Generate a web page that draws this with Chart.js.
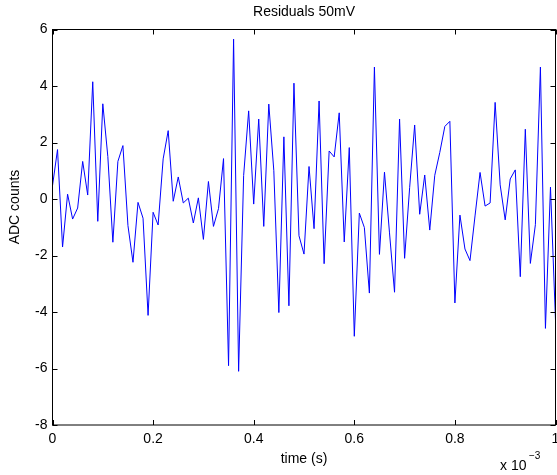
<!DOCTYPE html>
<html>
<head>
<meta charset="utf-8">
<script src="https://cdn.jsdelivr.net/npm/chart.js@4/dist/chart.umd.min.js"></script>
<style>
  html, body { margin: 0; padding: 0; background: #fff; }
  #wrap { width: 557px; height: 475px; }
</style>
</head>
<body>
<div id="wrap"><canvas id="resChart" width="557" height="475"></canvas></div>
<script>
// residuals, one sample every 1e-5 s
const residuals = [
  0.47, 1.75, -1.70, 0.17, -0.71, -0.32, 1.33, 0.14, 4.15, -0.79,
  3.37, 1.50, -1.53, 1.33, 1.89, -0.94, -2.24, -0.12, -0.68, -4.12,
  -0.47, -0.92, 1.42, 2.42, -0.08, 0.78, -0.14, 0.03, -0.85, 0.04,
  -1.43, 0.62, -0.97, -0.34, 1.43, -5.90, 5.66, -6.10, 0.83, 3.12,
  -0.18, 2.83, -0.97, 3.36, 1.00, -4.02, 2.20, -3.78, 4.10, -1.30,
  -1.95, 1.15, -1.05, 3.47, -2.29, 1.70, 1.49, 3.05, -1.52, 1.82,
  -4.86, -0.50, -1.01, -3.33, 4.67, -1.96, 0.95, -1.20, -3.30, 2.83,
  -2.10, 0.40, 2.62, -0.54, 0.85, -1.10, 0.84, 1.65, 2.57, 2.75,
  -3.68, -0.57, -1.77, -2.18, -0.60, 0.94, -0.25, -0.14, 3.42, 0.50,
  -0.74, 0.71, 1.03, -2.75, 2.47, -2.28, -0.91, 4.67, -4.58, 0.42,
  -4.30
];
const sampleStep = 1e-5;
const xTicks = [0, 0.2e-3, 0.4e-3, 0.6e-3, 0.8e-3, 1e-3];
const yTicks = [-8, -6, -4, -2, 0, 2, 4, 6];

const FONT = '"Liberation Sans", Arial, sans-serif';
const points = residuals.map((v, i) => ({ x: i * sampleStep, y: v }));

// matlab-ish box, inward ticks and the text bits
const frame = {
  id: "frame",
  afterDraw(chart) {
    const { ctx, chartArea: a, scales } = chart;
    ctx.save();
    ctx.strokeStyle = "#000";
    ctx.lineWidth = 1;
    ctx.strokeRect(a.left, a.top, a.right - a.left, a.bottom - a.top);
    ctx.beginPath();
    xTicks.forEach(t => {
      const px = Math.round(scales.x.getPixelForValue(t)) + 0.5;
      ctx.moveTo(px, a.bottom); ctx.lineTo(px, a.bottom - 5);
      ctx.moveTo(px, a.top); ctx.lineTo(px, a.top + 5);
    });
    yTicks.forEach(t => {
      const py = Math.round(scales.y.getPixelForValue(t)) + 0.5;
      ctx.moveTo(a.left, py); ctx.lineTo(a.left + 5, py);
      ctx.moveTo(a.right, py); ctx.lineTo(a.right - 5, py);
    });
    ctx.stroke();

    ctx.fillStyle = "#000";
    ctx.textAlign = "center";
    ctx.textBaseline = "middle";
    ctx.font = "14px " + FONT;
    const cx = (a.left + a.right) / 2;
    ctx.fillText("Residuals 50mV", cx, 12);
    ctx.fillText("time (s)", cx, 459);
    ctx.save();
    ctx.translate(15, 207);
    ctx.rotate(-Math.PI / 2);
    ctx.fillText("ADC counts", 0, 0);
    ctx.restore();

    ctx.textAlign = "left";
    ctx.fillText("x 10", 500, 466);
    ctx.font = "10px " + FONT;
    ctx.fillText("\u22123", 529, 456);
    ctx.restore();
  }
};

new Chart(document.getElementById("resChart"), {
  type: "line",
  data: {
    datasets: [{
      data: points,
      borderColor: "#0000ff",
      borderWidth: 1,
      pointRadius: 0,
      tension: 0,
      fill: false
    }]
  },
  options: {
    responsive: false,
    animation: false,
    layout: { padding: { top: 29.5, right: 1.5, left: 0, bottom: 0 } },
    plugins: { legend: { display: false }, tooltip: { enabled: false } },
    scales: {
      x: {
        type: "linear",
        min: 0,
        max: 1e-3,
        afterBuildTicks: s => { s.ticks = xTicks.map(v => ({ value: v })); },
        afterFit: s => { s.height = 50; s.paddingLeft = 0; s.paddingRight = 0; },
        grid: { display: false, drawTicks: false },
        border: { display: false },
        ticks: {
          padding: 6,
          color: "#000",
          font: { family: FONT, size: 14 },
          maxRotation: 0,
          callback: v => String(+(v * 1e3).toFixed(1))
        }
      },
      y: {
        min: -8,
        max: 6,
        afterBuildTicks: s => { s.ticks = yTicks.map(v => ({ value: v })); },
        afterFit: s => { s.width = 52.5; s.paddingTop = 0; s.paddingBottom = 0; },
        grid: { display: false, drawTicks: false },
        border: { display: false },
        ticks: {
          padding: 5,
          color: "#000",
          font: { family: FONT, size: 14 },
          callback: v => String(v)
        }
      }
    }
  },
  plugins: [frame]
});
</script>
</body>
</html>
